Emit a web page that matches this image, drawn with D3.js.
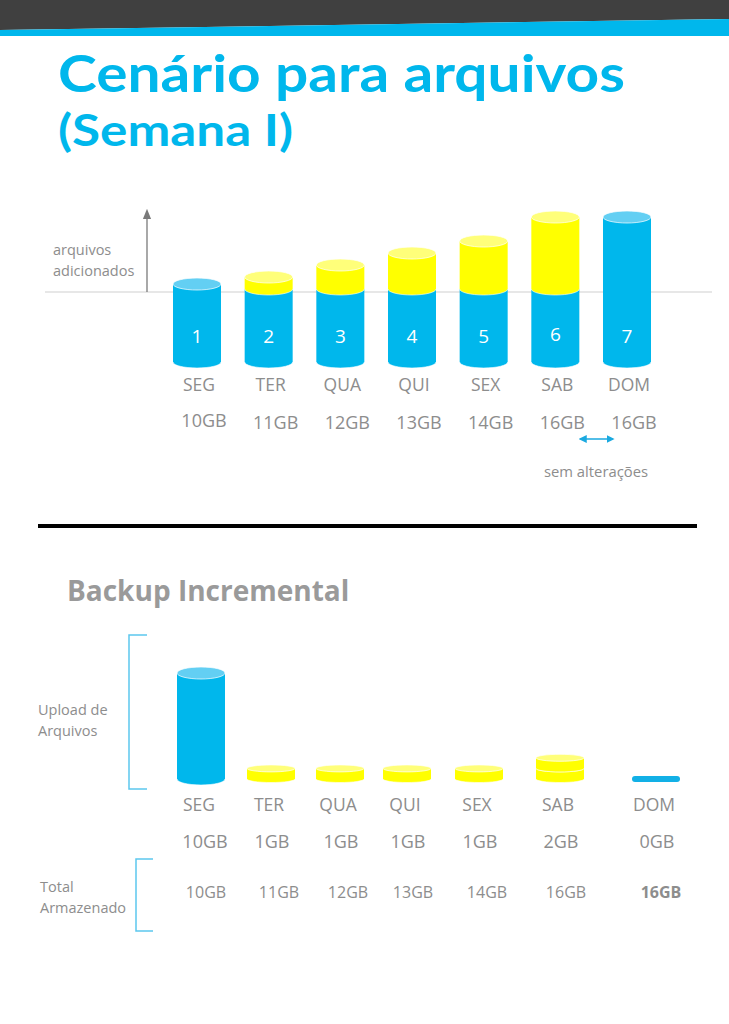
<!DOCTYPE html>
<html>
<head>
<meta charset="utf-8">
<script src="https://cdn.jsdelivr.net/npm/d3@7"></script>
<style>
  html, body { margin: 0; padding: 0; background: #fff; }
  svg { display: block; }
</style>
</head>
<body>
<svg id="chart" width="729" height="1024"></svg>
<script>
// ---------- DATA ----------
const days = ["SEG", "TER", "QUA", "QUI", "SEX", "SAB", "DOM"];
const dayNumbers = ["1", "2", "3", "4", "5", "6", "7"];
const totalGB = [10, 11, 12, 13, 14, 16, 16];
const totalLabels = ["10GB", "11GB", "12GB", "13GB", "14GB", "16GB", "16GB"];
// state of the part above the base line: base (no additions), added (new files), unchanged
const topState = ["base", "added", "added", "added", "added", "added", "unchanged"];
const uploadGB = [10, 1, 1, 1, 1, 2, 0];
const uploadLabels = ["10GB", "1GB", "1GB", "1GB", "1GB", "2GB", "0GB"];
const uploadType = ["full", "incremental", "incremental", "incremental", "incremental", "incremental", "none"];
const storedLabels = ["10GB", "11GB", "12GB", "13GB", "14GB", "16GB", "16GB"];
const baseGB = 10;

// ---------- STYLE ----------
const BLUE = "#00b7ec", BLUE_TOP = "#63cff3";
const YELLOW = "#ffff00", YELLOW_TOP = "#ffff7a";
const GRAY = "#8d8d8d";
const FONT = "'Open Sans', 'Noto Sans', sans-serif";

const svg = d3.select("#chart");
const defs = svg.append("defs");

// ---------- HEADER ----------
svg.append("polygon").attr("points", "0,0 729,0 729,19 0,30").attr("fill", "#404040");
svg.append("polygon").attr("points", "0,30 729,19 729,36 0,36").attr("fill", "#00b7ec");

svg.append("text").attr("x", 58).attr("y", 92)
  .attr("font-family", "Lato, 'Open Sans', sans-serif").attr("font-weight", 700)
  .attr("font-size", 52).attr("fill", "#00b7ec")
  .attr("textLength", 567).attr("lengthAdjust", "spacingAndGlyphs")
  .text("Cenário para arquivos");
svg.append("text").attr("x", 58).attr("y", 146)
  .attr("font-family", "Lato, 'Open Sans', sans-serif").attr("font-weight", 700)
  .attr("font-size", 44).attr("fill", "#00b7ec")
  .attr("textLength", 235).attr("lengthAdjust", "spacingAndGlyphs")
  .text("(Semana I)");

// ---------- cylinder helpers ----------
function body(g, cx, rx, yTop, yBot, ry, fill) {
  g.append("path")
    .attr("d", `M${cx - rx},${yTop} L${cx - rx},${yBot} A${rx},${ry} 0 0 0 ${cx + rx},${yBot} L${cx + rx},${yTop} Z`)
    .attr("fill", fill);
}
function bottomRim(g, cx, rx, yBot, ry) {
  g.append("path")
    .attr("d", `M${cx - rx},${yBot} A${rx},${ry} 0 0 0 ${cx + rx},${yBot}`)
    .attr("fill", "none").attr("stroke", "rgba(255,255,255,0.6)").attr("stroke-width", 1);
}
function topCap(g, cx, rx, y, ry, fill) {
  g.append("ellipse").attr("cx", cx).attr("cy", y).attr("rx", rx).attr("ry", ry)
    .attr("fill", fill).attr("stroke", "rgba(255,255,255,0.7)").attr("stroke-width", 1);
}

// ---------- CHART 1 ----------
const x1 = d3.scalePoint().domain(days).range([197, 627]);
const y1 = d3.scaleLinear().domain([baseGB, 16]).range([289, 217]);
const baseDepth = 73;            // visual depth of base below the line
const rx1 = 24, ry1 = 6;
const lineY = 292;

svg.append("line").attr("x1", 45).attr("x2", 712).attr("y1", lineY).attr("y2", lineY)
  .attr("stroke", "#cfcfcf").attr("stroke-width", 1.2);
defs.append("marker").attr("id", "arr").attr("viewBox", "0 0 10 10")
  .attr("refX", 5).attr("refY", 5).attr("markerWidth", 8).attr("markerHeight", 8)
  .attr("orient", "auto-start-reverse")
  .append("path").attr("d", "M0,1 L10,5 L0,9 Z").attr("fill", "#7a7a7a");
svg.append("line").attr("x1", 147).attr("x2", 147).attr("y1", lineY).attr("y2", 214)
  .attr("stroke", "#7a7a7a").attr("stroke-width", 1.3).attr("marker-end", "url(#arr)");
svg.append("text").attr("x", 53).attr("y", 255).attr("font-family", FONT).attr("font-size", 14.5)
  .attr("fill", GRAY).text("arquivos");
svg.append("text").attr("x", 53).attr("y", 276).attr("font-family", FONT).attr("font-size", 14.5)
  .attr("fill", GRAY).text("adicionados");

const g1 = svg.append("g");
days.forEach((d, i) => {
  const cx = x1(d);
  const yBase = y1(baseGB);
  const yBot = yBase + baseDepth;
  const yT = y1(totalGB[i]);
  const st = topState[i];
  if (st === "unchanged") {
    body(g1, cx, rx1, yT, yBot, ry1, BLUE);
    bottomRim(g1, cx, rx1, yBot, ry1);
    topCap(g1, cx, rx1, yT, ry1, BLUE_TOP);
  } else if (st === "base") {
    body(g1, cx, rx1, yBase - 5, yBot, ry1, BLUE);
    bottomRim(g1, cx, rx1, yBot, ry1);
    topCap(g1, cx, rx1, yBase - 5, ry1, BLUE_TOP);
  } else {
    body(g1, cx, rx1, yBase, yBot, ry1, BLUE);
    bottomRim(g1, cx, rx1, yBot, ry1);
    body(g1, cx, rx1, yT, yBase, ry1, YELLOW);
    bottomRim(g1, cx, rx1, yBase, ry1);
    topCap(g1, cx, rx1, yT, ry1, YELLOW_TOP);
  }
  g1.append("text").attr("x", cx).attr("y", i === 5 ? 341 : 343).attr("text-anchor", "middle")
    .attr("font-family", FONT).attr("font-size", 19).attr("fill", "#fff").text(dayNumbers[i]);
  g1.append("text").attr("x", cx + 2).attr("y", 391).attr("text-anchor", "middle")
    .attr("font-family", FONT).attr("font-size", 17.5).attr("fill", GRAY).text(d);
  g1.append("text").attr("x", cx + 7).attr("y", i === 0 ? 427 : 429).attr("text-anchor", "middle")
    .attr("font-family", FONT).attr("font-size", 18).attr("fill", GRAY).text(totalLabels[i]);
});

// "sem alterações" double arrow
const arrowY = 439;
defs.append("marker").attr("id", "barr").attr("viewBox", "0 0 10 10")
  .attr("refX", 8).attr("refY", 5).attr("markerWidth", 5).attr("markerHeight", 5)
  .attr("orient", "auto-start-reverse")
  .append("path").attr("d", "M0,0 L10,5 L0,10 Z").attr("fill", "#1aa9e0");
svg.append("line").attr("x1", x1("SAB") + 25).attr("x2", x1("DOM") - 14)
  .attr("y1", arrowY).attr("y2", arrowY)
  .attr("stroke", "#1aa9e0").attr("stroke-width", 1.6)
  .attr("marker-start", "url(#barr)").attr("marker-end", "url(#barr)");
svg.append("text").attr("x", 596).attr("y", 477).attr("text-anchor", "middle")
  .attr("font-family", FONT).attr("font-size", 14.8).attr("fill", GRAY).text("sem alterações");

// divider
svg.append("line").attr("x1", 38).attr("x2", 697).attr("y1", 526).attr("y2", 526)
  .attr("stroke", "#000").attr("stroke-width", 4);

// ---------- CHART 2 ----------
svg.append("text").attr("x", 67).attr("y", 601)
  .attr("font-family", FONT).attr("font-weight", 700).attr("font-size", 28)
  .attr("fill", "#9a9a9a").text("Backup Incremental");

const bracket = (x, y0, y1b, w) =>
  svg.append("path").attr("d", `M${x + w},${y0} L${x},${y0} L${x},${y1b} L${x + w},${y1b}`)
    .attr("fill", "none").attr("stroke", "#5cc8ee").attr("stroke-width", 1.5);
bracket(129, 635, 789, 18);
bracket(136, 859, 931, 17);

svg.append("text").attr("x", 38).attr("y", 715).attr("font-family", FONT).attr("font-size", 14.5)
  .attr("fill", GRAY).text("Upload de");
svg.append("text").attr("x", 38).attr("y", 736).attr("font-family", FONT).attr("font-size", 14.5)
  .attr("fill", GRAY).text("Arquivos");
svg.append("text").attr("x", 40).attr("y", 892).attr("font-family", FONT).attr("font-size", 14.5)
  .attr("fill", GRAY).text("Total");
svg.append("text").attr("x", 40).attr("y", 913).attr("font-family", FONT).attr("font-size", 14.5)
  .attr("fill", GRAY).text("Armazenado");

const x2 = d3.scaleOrdinal().domain(days).range([201, 271, 340, 407, 479, 560, 656]);
const y2 = d3.scaleLinear().domain([0, 10]).range([779, 673]);
const rx2 = 24, ry2 = 6, ryDisk = 3.5;

const g2 = svg.append("g");
days.forEach((d, i) => {
  const cx = x2(d);
  const t = uploadType[i];
  if (t === "full") {
    body(g2, cx, rx2, y2(uploadGB[i]), y2(0), ry2, BLUE);
    bottomRim(g2, cx, rx2, y2(0), ry2);
    topCap(g2, cx, rx2, y2(uploadGB[i]), ry2, BLUE_TOP);
  } else if (t === "incremental") {
    d3.range(uploadGB[i]).forEach(k => {
      const yb = y2(k);
      const yt = y2(k + 1);
      body(g2, cx, rx2, yt, yb, ryDisk, YELLOW);
      bottomRim(g2, cx, rx2, yb, ryDisk);
      topCap(g2, cx, rx2, yt, ryDisk, YELLOW_TOP);
    });
  } else {
    g2.append("rect").attr("x", cx - rx2).attr("y", y2(uploadGB[i]) - 3).attr("width", rx2 * 2)
      .attr("height", 6).attr("rx", 3).attr("fill", "#12b0e6");
  }
  g2.append("text").attr("x", cx - 2).attr("y", 811).attr("text-anchor", "middle")
    .attr("font-family", FONT).attr("font-size", 17.5).attr("fill", GRAY).text(d);
  g2.append("text").attr("x", cx + (i === 0 ? 4 : 1)).attr("y", 848).attr("text-anchor", "middle")
    .attr("font-family", FONT).attr("font-size", 18).attr("fill", GRAY).text(uploadLabels[i]);
  g2.append("text").attr("x", cx + [5, 8, 8, 6, 8, 6, 5][i]).attr("y", 898).attr("text-anchor", "middle")
    .attr("font-family", FONT).attr("font-size", 16).attr("font-weight", i === 6 ? 700 : 400)
    .attr("fill", GRAY).text(storedLabels[i]);
});
</script>
</body>
</html>
